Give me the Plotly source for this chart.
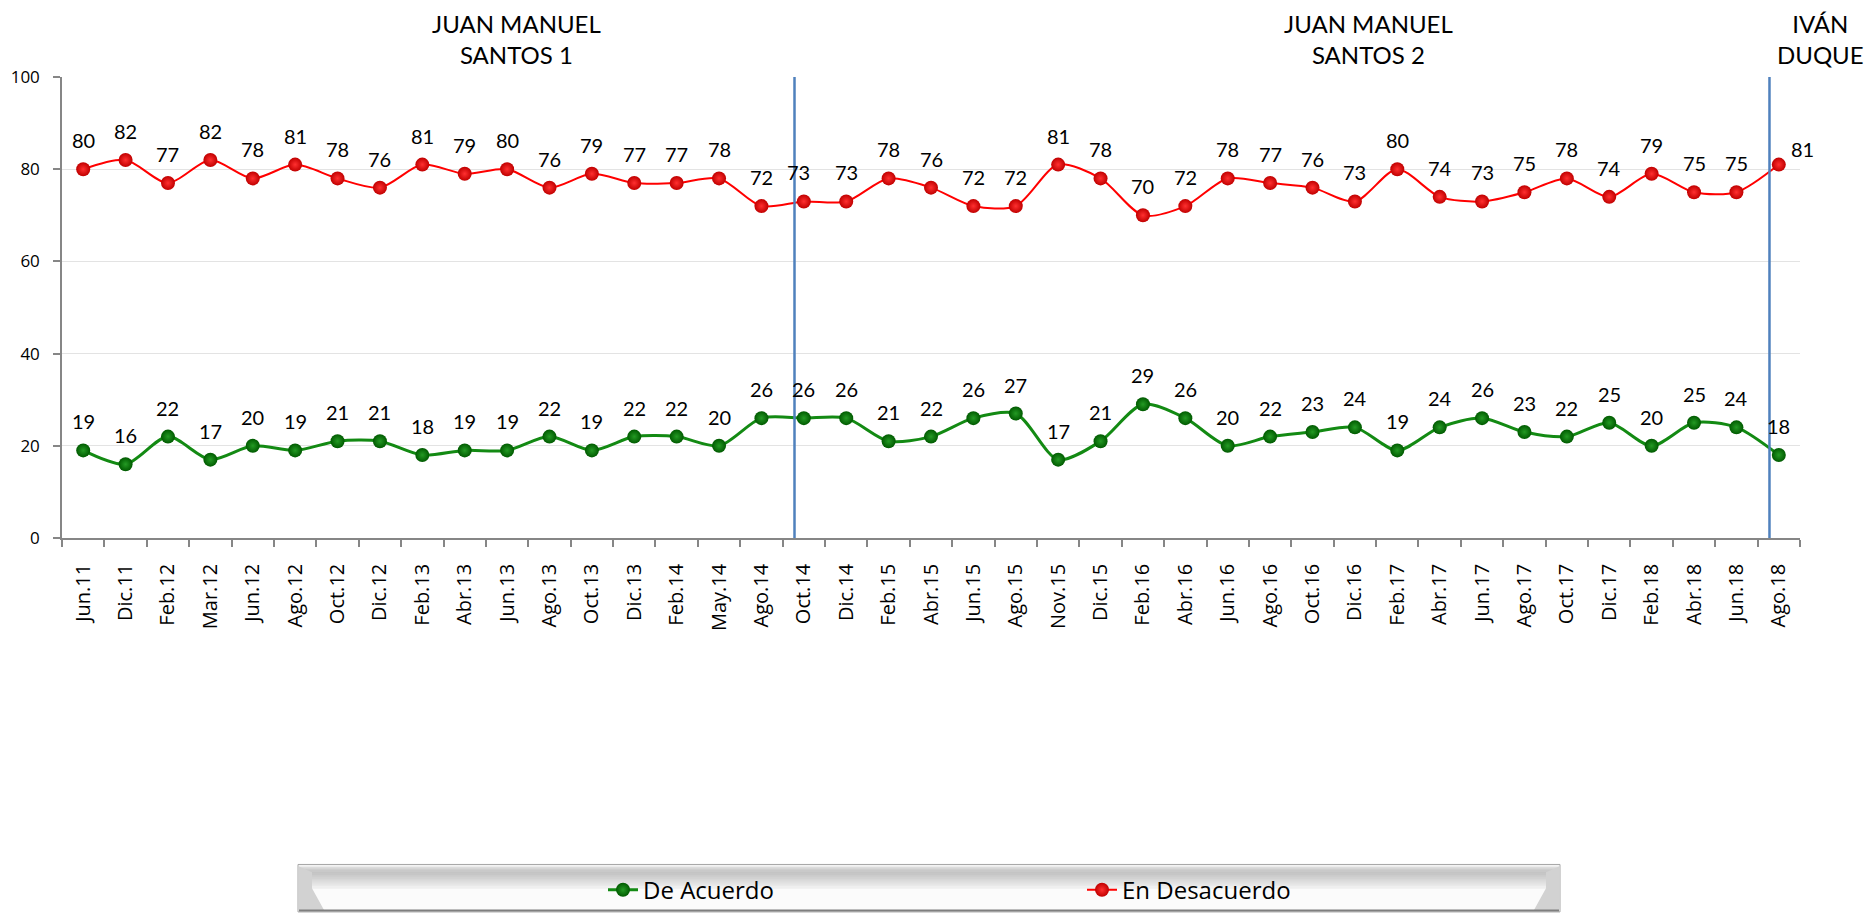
import plotly.graph_objects as go

# Survey periods (x axis)
categories = [
    "Jun.11", "Dic.11", "Feb.12", "Mar.12", "Jun.12", "Ago.12", "Oct.12", "Dic.12",
    "Feb.13", "Abr.13", "Jun.13", "Ago.13", "Oct.13", "Dic.13", "Feb.14", "May.14",
    "Ago.14", "Oct.14", "Dic.14", "Feb.15", "Abr.15", "Jun.15", "Ago.15", "Nov.15",
    "Dic.15", "Feb.16", "Abr.16", "Jun.16", "Ago.16", "Oct.16", "Dic.16", "Feb.17",
    "Abr.17", "Jun.17", "Ago.17", "Oct.17", "Dic.17", "Feb.18", "Abr.18", "Jun.18",
    "Ago.18",
]

de_acuerdo = [
    19, 16, 22, 17, 20, 19, 21, 21, 18, 19, 19, 22, 19, 22, 22, 20,
    26, 26, 26, 21, 22, 26, 27, 17, 21, 29, 26, 20, 22, 23, 24, 19,
    24, 26, 23, 22, 25, 20, 25, 24, 18,
]

en_desacuerdo = [
    80, 82, 77, 82, 78, 81, 78, 76, 81, 79, 80, 76, 79, 77, 77, 78,
    72, 73, 73, 78, 76, 72, 72, 81, 78, 70, 72, 78, 77, 76, 73, 80,
    74, 73, 75, 78, 74, 79, 75, 75, 81,
]

# Government periods: first survey of each new term
period_starts = ["Oct.14", "Ago.18"]
period_names = ["JUAN MANUEL<br>SANTOS 1", "JUAN MANUEL<br>SANTOS 2", "IVÁN<br>DUQUE"]

W, H = 1868, 924
ML, MR, MT, MB = 62, 68, 77, 381
PW, PH = W - ML - MR, H - MT - MB


def px_x(px):
    return (px - ML) / PW


def px_y(py):
    return (H - MB - py) / PH


LABEL_FONT = "Lato, 'Open Sans', sans-serif"
TICK_FONT = "'Open Sans', sans-serif"

fig = go.Figure()

fig.add_trace(go.Scatter(
    x=categories, y=de_acuerdo, name="De Acuerdo",
    mode="lines+markers",
    line=dict(color="#138a13", width=3, shape="spline", smoothing=0.8),
    marker=dict(size=14, color="#005a00",
                gradient=dict(type="radial", color="#249a24"),
                line=dict(width=0)),
    cliponaxis=False,
))

fig.add_trace(go.Scatter(
    x=categories, y=en_desacuerdo, name="En Desacuerdo",
    mode="lines+markers",
    line=dict(color="#ff0000", width=2, shape="spline", smoothing=0.8),
    marker=dict(size=14, color="#c00000",
                gradient=dict(type="radial", color="#ff3030"),
                line=dict(width=0)),
    cliponaxis=False,
))

annotations = []

# Value labels above each point
for series in (de_acuerdo, en_desacuerdo):
    for i, (cat, val) in enumerate(zip(categories, series)):
        xs, ys = 0, 29
        if series is en_desacuerdo and i == len(categories) - 1:
            xs, ys = 24, 16
        if series is en_desacuerdo and cat == "Oct.14":
            xs = -5
        annotations.append(dict(
            x=cat, y=val, xref="x", yref="y", text=str(val), showarrow=False,
            xshift=xs, yshift=ys,
            font=dict(family=LABEL_FONT, size=20, color="#000000"),
        ))

# Period headings
heading_px = [(516, "center"), (1368, "center"), (1866, "right")]
for name, (hx, anchor) in zip(period_names, heading_px):
    annotations.append(dict(
        x=px_x(hx), y=px_y(39), xref="paper", yref="paper", text=name,
        showarrow=False, xanchor=anchor, yanchor="middle", align="center",
        font=dict(family=LABEL_FONT, size=24, color="#000000"),
    ))

shapes = []

# Vertical separators between government periods
for start in period_starts:
    xi = categories.index(start) - 0.22
    shapes.append(dict(
        type="line", xref="x", yref="y", x0=xi, x1=xi, y0=0, y1=100,
        line=dict(color="#4f81bd", width=2.5), layer="above",
    ))

# Bevelled legend panel
bx0, bx1, by0, by1 = 298, 1560, 873, 921


def prect(x0, x1, y0, y1, fill, line_color=None, lw=0):
    return dict(type="rect", xref="paper", yref="paper",
                x0=px_x(x0), x1=px_x(x1), y0=px_y(y1), y1=px_y(y0),
                fillcolor=fill,
                line=dict(color=line_color or fill, width=lw),
                layer="below")


shapes.append(prect(bx0, bx1, by0, by1, "#fbfbfb", "#a6a6a6", 1))
band_colors = ["#ececec", "#d6d6d6", "#c9c9c9", "#c4c4c4", "#c6c6c6", "#cbcbcb",
               "#d1d1d1", "#d7d7d7", "#dddddd", "#e3e3e3", "#e9e9e9", "#efefef"]
top, bottom = by0 + 1, by0 + 24
for k, col in enumerate(band_colors):
    y_a = top + (bottom - top) * k / len(band_colors)
    y_b = top + (bottom - top) * (k + 1) / len(band_colors)
    shapes.append(prect(bx0 + 1, bx1 - 1, y_a, y_b + 0.5, col))


def ppath(points, fill):
    d = "M " + " L ".join(f"{px_x(x)},{px_y(y)}" for x, y in points) + " Z"
    return dict(type="path", xref="paper", yref="paper", path=d,
                fillcolor=fill, line=dict(width=0), layer="below")


shapes.append(ppath([(bx0 + 1, by0 + 2), (bx0 + 14, by0 + 8), (bx0 + 14, by0 + 24),
                     (bx0 + 26, by1 - 2), (bx0 + 1, by1 - 2)], "#d2d2d2"))
shapes.append(ppath([(bx1 - 1, by0 + 2), (bx1 - 14, by0 + 8), (bx1 - 14, by0 + 24),
                     (bx1 - 26, by1 - 2), (bx1 - 1, by1 - 2)], "#d2d2d2"))
shapes.append(dict(type="line", xref="paper", yref="paper",
                   x0=px_x(bx0 + 1), x1=px_x(bx1 - 1),
                   y0=px_y(by1 - 1.5), y1=px_y(by1 - 1.5),
                   line=dict(color="#7f7f7f", width=2), layer="below"))

fig.update_layout(
    width=W, height=H,
    margin=dict(l=ML, r=MR, t=MT, b=MB),
    paper_bgcolor="#ffffff", plot_bgcolor="#ffffff",
    showlegend=True,
    legend=dict(
        orientation="h", x=px_x(603), y=px_y(899),
        xanchor="left", yanchor="middle",
        bgcolor="rgba(0,0,0,0)",
        font=dict(family=TICK_FONT, size=24, color="#000000"),
        entrywidth=434, entrywidthmode="pixels",
    ),
    annotations=annotations,
    shapes=shapes,
    xaxis=dict(
        type="category", range=[-0.5, len(categories) - 0.5],
        tickson="boundaries", ticks="outside", ticklen=7, tickcolor="#868686",
        tickwidth=1.5,
        showline=True, linecolor="#868686", linewidth=1.5,
        showgrid=False, tickangle=-90, ticklabelstandoff=16,
        tickfont=dict(family=TICK_FONT, size=20, color="#000000"),
    ),
    yaxis=dict(
        range=[0, 100], tickvals=[0, 20, 40, 60, 80, 100],
        ticks="outside", ticklen=7, tickcolor="#868686", tickwidth=1.5,
        showline=True, linecolor="#868686", linewidth=1.5,
        showgrid=True, gridcolor="#e3e3e3", gridwidth=1,
        zeroline=False, ticklabelstandoff=10,
        tickfont=dict(family=TICK_FONT, size=17, color="#000000"),
    ),
)

fig.write_html("out.html")
